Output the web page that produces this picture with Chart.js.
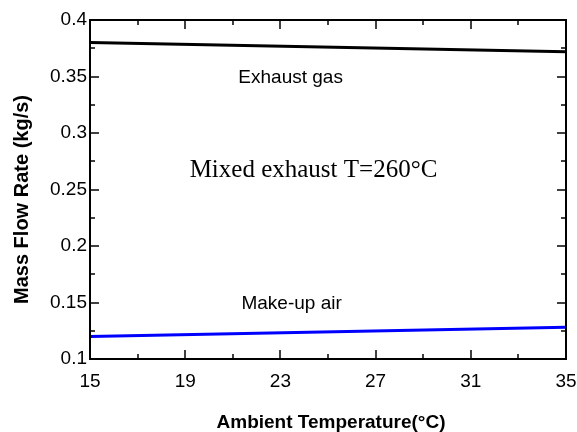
<!DOCTYPE html>
<html><head><meta charset="utf-8">
<script src="https://cdn.jsdelivr.net/npm/chart.js@4"></script>
<style>html,body{margin:0;padding:0;background:#fff}#wrap{width:577px;height:432px;position:relative}</style>
</head><body><div id="wrap"><canvas id="c" width="577" height="432" style="width:577px;height:432px"></canvas></div>
<script>
const temperatures = [15, 35];
const exhaustGas = [0.380, 0.372];
const makeUpAir = [0.120, 0.128];
const xTicks = [15, 19, 23, 27, 31, 35];
const yTicks = [0.1, 0.15, 0.2, 0.25, 0.3, 0.35, 0.4];
const xTitle = 'Ambient Temperature(°C)';
const yTitle = 'Mass Flow Rate (kg/s)';
const noteExhaust = 'Exhaust gas';
const noteMakeup = 'Make-up air';
const noteMixed = 'Mixed exhaust T=260°C';

const SANS = '"Liberation Sans", Arial, sans-serif';
const SERIF = '"Liberation Serif", "Times New Roman", serif';

const framePlugin = {
  id: 'frame',
  afterDraw(chart) {
    const ctx = chart.ctx, a = chart.chartArea;
    const xs = chart.scales.x, ys = chart.scales.y;
    ctx.save();
    ctx.strokeStyle = '#000';
    ctx.lineWidth = 2;
    ctx.strokeRect(a.left, a.top, a.right - a.left, a.bottom - a.top);
    ctx.lineWidth = 1.5;
    const major = 9, minor = 5;
    const tick = (x1, y1, x2, y2) => { ctx.beginPath(); ctx.moveTo(x1, y1); ctx.lineTo(x2, y2); ctx.stroke(); };
    xTicks.forEach((v, i) => {
      const px = Math.round(xs.getPixelForValue(v));
      tick(px, a.bottom, px, a.bottom - major);
      tick(px, a.top, px, a.top + major);
      if (i < xTicks.length - 1) {
        const m = Math.round(xs.getPixelForValue((v + xTicks[i + 1]) / 2));
        tick(m, a.bottom, m, a.bottom - minor);
        tick(m, a.top, m, a.top + minor);
      }
    });
    yTicks.forEach((v, i) => {
      const py = Math.round(ys.getPixelForValue(v));
      tick(a.left, py, a.left + major, py);
      tick(a.right, py, a.right - major, py);
      if (i < yTicks.length - 1) {
        const m = Math.round(ys.getPixelForValue((v + yTicks[i + 1]) / 2));
        tick(a.left, m, a.left + minor, m);
        tick(a.right, m, a.right - minor, m);
      }
    });
    ctx.fillStyle = '#000';
    ctx.textBaseline = 'alphabetic';
    ctx.textAlign = 'center';
    ctx.font = 'bold 19px ' + SANS;
    ctx.fillText(xTitle, (a.left + a.right) / 2 + 3, a.bottom + 69);
    ctx.save();
    ctx.font = 'bold 20px ' + SANS;
    ctx.translate(a.left - 62, (a.top + a.bottom) / 2 + 10);
    ctx.rotate(-Math.PI / 2);
    ctx.fillText(yTitle, 0, 0);
    ctx.restore();
    ctx.font = '19px ' + SANS;
    ctx.fillText(noteExhaust, xs.getPixelForValue(23.43), ys.getPixelForValue(0.3442));
    ctx.fillText(noteMakeup, xs.getPixelForValue(23.47), ys.getPixelForValue(0.1442));
    ctx.font = '25px ' + SERIF;
    ctx.fillText(noteMixed, xs.getPixelForValue(24.39), ys.getPixelForValue(0.2611));
    ctx.restore();
  }
};

new Chart(document.getElementById('c'), {
  type: 'line',
  data: {
    datasets: [
      { label: 'Exhaust gas', data: temperatures.map((t, i) => ({x: t, y: exhaustGas[i]})),
        borderColor: '#000000', borderWidth: 3, pointRadius: 0, tension: 0, fill: false },
      { label: 'Make-up air', data: temperatures.map((t, i) => ({x: t, y: makeUpAir[i]})),
        borderColor: '#0000ff', borderWidth: 3, pointRadius: 0, tension: 0, fill: false }
    ]
  },
  options: {
    responsive: false,
    animation: false,
    devicePixelRatio: 1,
    layout: { padding: { top: 20, right: 11, left: 0, bottom: 0 } },
    plugins: { legend: { display: false }, tooltip: { enabled: false } },
    scales: {
      x: {
        type: 'linear', min: 15, max: 35,
        afterBuildTicks: s => { s.ticks = xTicks.map(v => ({value: v})); },
        afterFit: s => { s.height = 73; s.paddingRight = 0; s.paddingLeft = 0; },
        grid: { display: false, drawTicks: false },
        border: { display: false },
        ticks: { color: '#000', padding: 11, maxRotation: 0, autoSkip: false,
                 font: { family: SANS, size: 19 }, callback: v => String(v) }
      },
      y: {
        type: 'linear', min: 0.1, max: 0.4,
        afterBuildTicks: s => { s.ticks = yTicks.map(v => ({value: v})); },
        afterFit: s => { s.width = 90; s.paddingTop = 0; s.paddingBottom = 0; },
        grid: { display: false, drawTicks: false },
        border: { display: false },
        ticks: { color: '#000', padding: 3, autoSkip: false,
                 font: { family: SANS, size: 19 }, callback: v => String(Math.round(v * 1000) / 1000) }
      }
    }
  },
  plugins: [framePlugin]
});
</script>
</body></html>
